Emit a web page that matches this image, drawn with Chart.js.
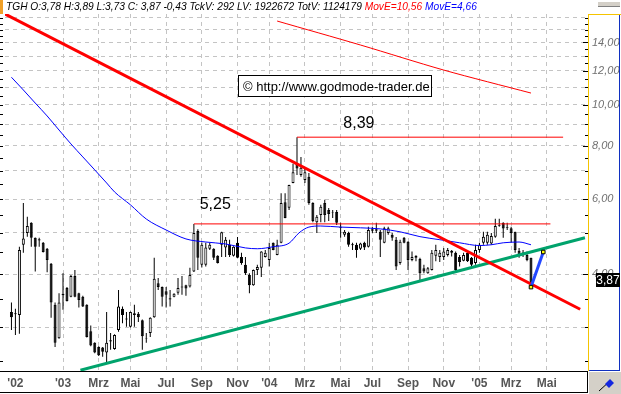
<!DOCTYPE html>
<html lang="de">
  <head>
    <meta charset="UTF-8" />
    <title>TGH Wochenchart</title>
    <script src="https://cdn.jsdelivr.net/npm/chart.js@4.4.1/dist/chart.umd.min.js"></script>
    <style>
      body { margin: 0; background: #ffffff; }
      #wrap { position: relative; width: 621px; height: 394px; overflow: hidden; }
      #head {
        position: absolute; left: 6px; top: 0;
        font: italic 10.2px "Liberation Sans", Arial, sans-serif;
        line-height: 13px; white-space: nowrap; color: #000;
      }
    </style>
  </head>
  <body>
    <div id="wrap">
      <canvas id="myChart" width="621" height="394"></canvas>
      <div id="head">TGH O:3,78 H:3,89 L:3,73 C: 3,87 -0,43 TckV: 292 LV: 1922672 TotV: 1124179 <span style="color:#ff0000">MovE=10,56</span> <span style="color:#0000ff">MovE=4,66</span></div>
    </div>
    <script>
      // Wochenkerzen, Index 0 = Ende Sept. 2002
      var opens = [3.26,3.24,3.21,4.69,5.00,5.28,4.87,4.83,4.74,4.59,4.23,3.39,2.83,3.57,3.71,3.54,3.96,3.61,3.54,3.39,
        2.94,2.76,2.70,2.69,2.62,2.78,2.67,2.96,3.32,3.13,3.01,3.21,3.23,3.12,2.83,2.91,3.17,3.81,3.73,3.65,
        3.51,3.54,3.62,3.72,3.77,3.74,4.06,5.05,4.21,4.21,4.59,4.59,4.42,4.69,4.62,4.69,4.42,4.74,4.39,4.21,
        3.98,3.77,4.09,4.14,4.39,4.32,4.74,4.44,4.74,5.90,5.73,6.55,7.27,6.84,6.66,6.77,5.88,5.30,5.51,5.88,
        5.66,5.60,5.60,5.17,4.95,5.00,4.70,4.69,4.59,4.74,4.64,5.06,5.10,5.03,4.74,5.00,4.95,4.82,4.25,4.87,
        4.77,4.32,4.42,4.34,4.13,4.02,4.09,4.42,4.39,4.39,4.44,4.54,4.49,4.39,4.30,4.49,4.37,4.25,4.56,4.74,
        4.74,4.72,4.90,5.20,5.28,5.16,5.13,5.03,4.54,4.50,4.44,4.37];
      var highs = [3.43,3.32,4.64,5.88,5.46,5.30,4.88,4.87,4.76,4.61,4.25,3.43,3.61,4.02,3.73,3.98,4.09,3.62,3.56,3.40,
        3.03,2.77,2.71,2.70,3.26,2.91,2.89,3.67,3.36,3.26,3.27,3.39,3.26,3.13,2.91,3.17,4.37,3.92,3.74,3.73,
        3.67,3.61,3.92,3.96,3.78,4.14,5.25,5.10,4.75,4.74,4.74,4.60,4.43,5.03,4.89,4.82,4.65,4.89,4.49,4.39,
        4.02,4.10,4.21,4.53,4.56,4.74,4.75,4.82,6.20,6.20,6.49,7.27,8.39,7.54,7.11,6.91,5.90,5.51,5.82,5.98,
        5.72,5.66,5.66,5.28,5.08,5.03,4.74,4.74,4.74,4.77,5.17,5.17,5.28,5.08,5.17,5.17,5.00,4.89,4.82,4.89,
        4.78,4.52,4.43,4.37,4.21,4.16,4.56,4.69,4.56,4.61,4.61,4.56,4.52,4.44,4.49,4.52,4.39,4.69,4.74,5.03,
        5.03,5.00,5.40,5.40,5.30,5.28,5.17,5.03,4.61,4.56,4.52,4.37];
      var lows = [2.96,2.88,2.90,4.49,4.90,4.64,4.06,4.64,4.50,4.04,3.16,2.70,2.82,3.30,3.45,3.53,3.53,3.34,3.35,2.84,
        2.71,2.61,2.57,2.56,2.48,2.66,2.66,2.93,3.07,3.01,3.00,3.01,3.09,2.66,2.76,2.85,3.16,3.67,3.36,3.34,
        3.36,3.53,3.58,3.58,3.56,3.72,4.05,4.09,4.15,4.17,4.56,4.32,4.24,4.39,4.39,4.39,4.40,4.36,4.21,3.98,
        3.61,3.76,3.98,3.94,4.38,4.17,4.55,4.43,4.73,5.41,5.66,6.54,6.84,6.77,6.55,5.82,5.30,5.00,5.30,5.30,
        5.33,5.42,5.22,4.87,4.90,4.64,4.56,4.37,4.56,4.56,4.62,5.00,5.00,4.39,4.73,4.95,4.79,4.09,4.21,4.73,
        4.09,4.29,4.29,3.84,4.02,4.01,4.08,4.29,4.27,4.32,4.40,4.40,4.06,4.17,4.29,4.27,4.17,4.21,4.49,4.69,
        4.69,4.69,4.87,5.17,4.87,5.08,4.74,4.49,4.37,4.39,4.29,3.71];
      var closes = [3.17,3.22,4.56,4.85,5.19,4.87,4.64,4.80,4.51,4.32,3.43,2.76,3.43,3.60,3.46,3.96,3.54,3.48,3.36,2.85,
        2.72,2.62,2.58,2.63,2.76,2.80,2.88,3.36,3.21,3.15,3.26,3.24,3.17,2.86,2.82,3.16,3.90,3.73,3.54,3.58,
        3.49,3.60,3.71,3.74,3.70,3.98,5.00,4.37,4.69,4.62,4.69,4.37,4.25,5.02,4.82,4.44,4.64,4.37,4.25,4.02,
        3.77,4.09,4.16,4.52,4.49,4.61,4.56,4.69,5.88,5.42,6.48,6.94,7.08,7.11,6.94,5.88,5.33,5.46,5.76,5.51,
        5.54,5.58,5.28,5.14,5.03,4.69,4.68,4.56,4.72,4.62,5.08,5.10,5.06,4.82,5.13,5.13,4.87,4.17,4.77,4.74,
        4.32,4.39,4.37,4.02,4.06,4.13,4.49,4.56,4.49,4.52,4.56,4.49,4.09,4.27,4.44,4.29,4.21,4.56,4.69,4.90,
        4.95,4.92,5.19,5.22,5.12,5.14,5.00,4.56,4.44,4.48,4.32,3.73];

      // Achsen
      var monthWeeks = [1, 13, 22, 30, 39, 48, 57, 65, 74, 83, 91, 100, 109, 118, 126, 135];
      var monthLabels = ["'02", "'03", "Mrz", "Mai", "Jul", "Sep", "Nov", "'04", "Mrz", "Mai", "Jul", "Sep", "Nov", "'05", "Mrz", "Mai"];
      var priceTicks = [3, 4, 5, 6, 7, 8, 9, 10, 11, 12, 13, 14, 15, 16];
      var priceLabels = [4, 6, 8, 10, 12, 14];

      // gleitende Durchschnitte
      var maLongWeeks = [67, 88, 109, 131];
      var maLongValues = [15.72, 13.81, 12.06, 10.65];
      var maShortWeeks = [0, 3, 6, 9, 12, 15, 18, 21, 24, 26, 30, 34, 39, 44, 49, 54, 59, 62, 66, 70, 72.5, 75, 78, 83, 88, 93, 98, 103, 108, 113, 118, 121, 124, 128, 131];
      var maShortValues = [11.6, 10.83, 10.09, 9.41, 8.72, 8.09, 7.54, 7.03, 6.55, 6.24, 5.82, 5.39, 5.08, 4.84, 4.76, 4.71, 4.61, 4.59, 4.64, 4.73, 5.0, 5.16, 5.19, 5.16, 5.14, 5.11, 5.03, 4.90, 4.82, 4.74, 4.67, 4.69, 4.74, 4.76, 4.69];

      // eingezeichnete Linien [Woche, Kurs]
      var redTrend = [[-1.625, 16.33], [143.4, 3.31]];
      var greenTrend = [[17.4, 2.38], [144.6, 4.87]];
      var levelValues = [8.39, 5.25];
      var levelFrom = [72, 46];
      var levelTo = [139.1, 135.9];
      var levelLabelAt = [87.6, 51.4];
      var levelLabelPrice = [8.82, 5.69];
      var arrowLine = [[131, 3.73], [134.1, 4.51]];
      var lastClose = 3.87;

      function fmt(v) { return v.toFixed(2).replace(".", ","); }
      function pts(arr) { return arr.map(function (p) { return { x: p[0], y: p[1] }; }); }

      var chartDeco = {
        id: "chartDeco",
        beforeDraw: function (chart) {
          var c = chart.ctx;
          c.save();
          c.fillStyle = "#ffffff";
          c.fillRect(0, 0, chart.width, chart.height);
          c.restore();
        },
        afterDraw: function (chart) {
          var c = chart.ctx, a = chart.chartArea, xs = chart.scales.x, ys = chart.scales.y;
          c.save();
          // kleine Striche alle 0,5 links und rechts
          c.strokeStyle = "#000";
          c.lineWidth = 1;
          c.beginPath();
          for (var v = 2.5; v <= 16; v += 0.5) {
            var py = Math.round(ys.getPixelForValue(v)) + 0.5;
            var len = priceLabels.indexOf(v) >= 0 ? 5 : 3;
            c.moveTo(0, py); c.lineTo(3, py);
            c.moveTo(a.right - len, py); c.lineTo(a.right, py);
          }
          c.stroke();

          // Kurstexte an den Linien
          c.fillStyle = "#000";
          c.font = "16px 'Liberation Sans', Arial, sans-serif";
          c.textAlign = "center";
          c.textBaseline = "alphabetic";
          for (var k = 0; k < levelValues.length; k++) {
            c.fillText(fmt(levelValues[k]), xs.getPixelForValue(levelLabelAt[k]), ys.getPixelForValue(levelLabelPrice[k]));
          }

          // Copyright-Kasten
          c.fillStyle = "#fff";
          c.fillRect(238, 75, 194, 22);
          c.strokeStyle = "#000";
          c.strokeRect(238.5, 75.5, 193, 21);
          c.fillStyle = "#000";
          c.font = "13px 'Liberation Sans', Arial, sans-serif";
          c.textAlign = "left";
          c.fillText("\u00A9 http://www.godmode-trader.de", 243, 91);

          // rechter Rahmen
          c.strokeStyle = "#f5c400";
          c.beginPath();
          c.moveTo(a.right + 0.5, a.top); c.lineTo(a.right + 0.5, a.bottom);
          c.moveTo(a.right, a.top + 0.5); c.lineTo(chart.width, a.top + 0.5);
          c.stroke();
          c.strokeStyle = "#1030c0";
          c.beginPath();
          c.moveTo(chart.width - 1.5, a.top + 1); c.lineTo(chart.width - 1.5, a.bottom);
          c.moveTo(a.right + 1, a.bottom - 0.5); c.lineTo(chart.width - 1, a.bottom - 0.5);
          c.stroke();

          // Zeitachsen-Leiste
          c.strokeStyle = "#000";
          c.beginPath();
          c.moveTo(0, a.bottom + 0.5); c.lineTo(a.right, a.bottom + 0.5);
          c.moveTo(0, chart.height - 1.5); c.lineTo(a.right, chart.height - 1.5);
          c.moveTo(a.right - 0.5, a.bottom); c.lineTo(a.right - 0.5, chart.height - 1);
          c.stroke();

          // Knopf unten rechts
          c.fillStyle = "#d4d0c8";
          c.fillRect(a.right + 1, a.bottom + 1, chart.width - a.right - 1, chart.height - a.bottom - 1);
          c.strokeStyle = "#000";
          c.beginPath();
          c.moveTo(599, 391); c.lineTo(611, 380);
          c.stroke();
          c.fillStyle = "#1428e0";
          c.beginPath();
          c.moveTo(605, 384); c.lineTo(610, 379); c.lineTo(614, 383); c.lineTo(609, 388);
          c.closePath();
          c.fill();

          // Knopf oben rechts, oranges Feld oben links
          c.fillStyle = "#d4d0c8";
          c.fillRect(598, 2, 22, 5);
          c.fillStyle = "#808080";
          c.fillRect(598, 6, 22, 1);
          c.fillStyle = "#f0a028";
          c.fillRect(0, 0, 3, 14);

          // letzter Kurs
          var yc = Math.round(ys.getPixelForValue(lastClose));
          c.fillStyle = "#000";
          c.fillRect(596, yc - 7, 24, 14);
          c.fillStyle = "#fff";
          c.font = "12px 'Liberation Sans', Arial, sans-serif";
          c.textAlign = "center";
          c.textBaseline = "middle";
          c.fillText(fmt(lastClose), 608, yc + 0.5);
          c.restore();
        }
      };

      var ctx = document.getElementById("myChart").getContext("2d");

      var levelSets = levelValues.map(function (v, k) {
        return {
          type: "line", order: 2,
          data: [{ x: levelFrom[k], y: v }, { x: levelTo[k], y: v }],
          borderColor: "#ff0000", borderWidth: 1, pointRadius: 0
        };
      });

      new Chart(ctx, {
        type: "bar",
        data: {
          datasets: [
            {
              // Dochte
              order: 6, grouped: false, barThickness: 1, inflateAmount: 0,
              data: highs.map(function (h, i) { return { x: i, y: [lows[i], h] }; }),
              backgroundColor: "#000", borderWidth: 0
            },
            {
              // Kerzenkoerper
              order: 5, grouped: false, barThickness: 3, inflateAmount: 0,
              data: opens.map(function (o, i) { return { x: i, y: [o, closes[i]] }; }),
              backgroundColor: opens.map(function (o, i) { return closes[i] >= o ? "#ffffff" : "#000000"; }),
              borderColor: "#000", borderWidth: 1, borderSkipped: false
            },
            {
              type: "line", order: 4,
              data: maShortWeeks.map(function (w, i) { return { x: w, y: maShortValues[i] }; }),
              borderColor: "#0000ff", borderWidth: 1, pointRadius: 0,
              tension: 0.4, cubicInterpolationMode: "monotone"
            },
            {
              type: "line", order: 3,
              data: maLongWeeks.map(function (w, i) { return { x: w, y: maLongValues[i] }; }),
              borderColor: "#ff0000", borderWidth: 1, pointRadius: 0, tension: 0.3
            }
          ].concat(levelSets, [
            {
              type: "line", order: 1, data: pts(redTrend),
              borderColor: "#ff0000", borderWidth: 3, pointRadius: 0
            },
            {
              type: "line", order: 1, data: pts(greenTrend),
              borderColor: "#00a36c", borderWidth: 3, pointRadius: 0
            },
            {
              type: "line", order: 0, data: pts(arrowLine),
              borderColor: "#2448ff", borderWidth: 3,
              pointRadius: 2.5, pointStyle: "rect",
              pointBackgroundColor: "#ffff00", pointBorderColor: "#000", pointBorderWidth: 1
            }
          ])
        },
        options: {
          responsive: false,
          animation: false,
          events: [],
          layout: { padding: { top: 14, left: 0, right: 0, bottom: 0 } },
          plugins: { legend: { display: false }, tooltip: { enabled: false } },
          scales: {
            x: {
              type: "linear", min: -1.625, max: 145.375, bounds: "data", offset: false,
              grid: {
                offset: false, drawTicks: false, lineWidth: 1,
                color: function (c) { return c.tick && c.tick.value === 1 ? "rgba(0,0,0,0)" : "#c4c4c4"; }
              },
              border: { display: false, dash: [4, 4] },
              afterBuildTicks: function (s) { s.ticks = monthWeeks.map(function (w) { return { value: w }; }); },
              afterFit: function (s) { s.height = 23; },
              ticks: {
                autoSkip: false, maxRotation: 0, padding: 5, color: "#555555",
                font: { family: "'Liberation Sans', Arial, sans-serif", size: 12, weight: "bold" },
                callback: function (v) { return monthLabels[monthWeeks.indexOf(v)]; }
              }
            },
            y: {
              type: "logarithmic", position: "right", min: 2.37, max: 16.33, bounds: "data",
              grid: { color: "#c4c4c4", drawTicks: false, lineWidth: 1 },
              border: { display: false, dash: [4, 4] },
              afterBuildTicks: function (s) { s.ticks = priceTicks.map(function (v) { return { value: v }; }); },
              afterFit: function (s) { s.width = 33; },
              ticks: {
                autoSkip: false, padding: 4, color: "#707070",
                font: { family: "'Liberation Sans', Arial, sans-serif", size: 11, style: "italic" },
                callback: function (v) { return priceLabels.indexOf(v) >= 0 ? fmt(v) : ""; }
              }
            }
          }
        },
        plugins: [chartDeco]
      });
    </script>
  </body>
</html>
